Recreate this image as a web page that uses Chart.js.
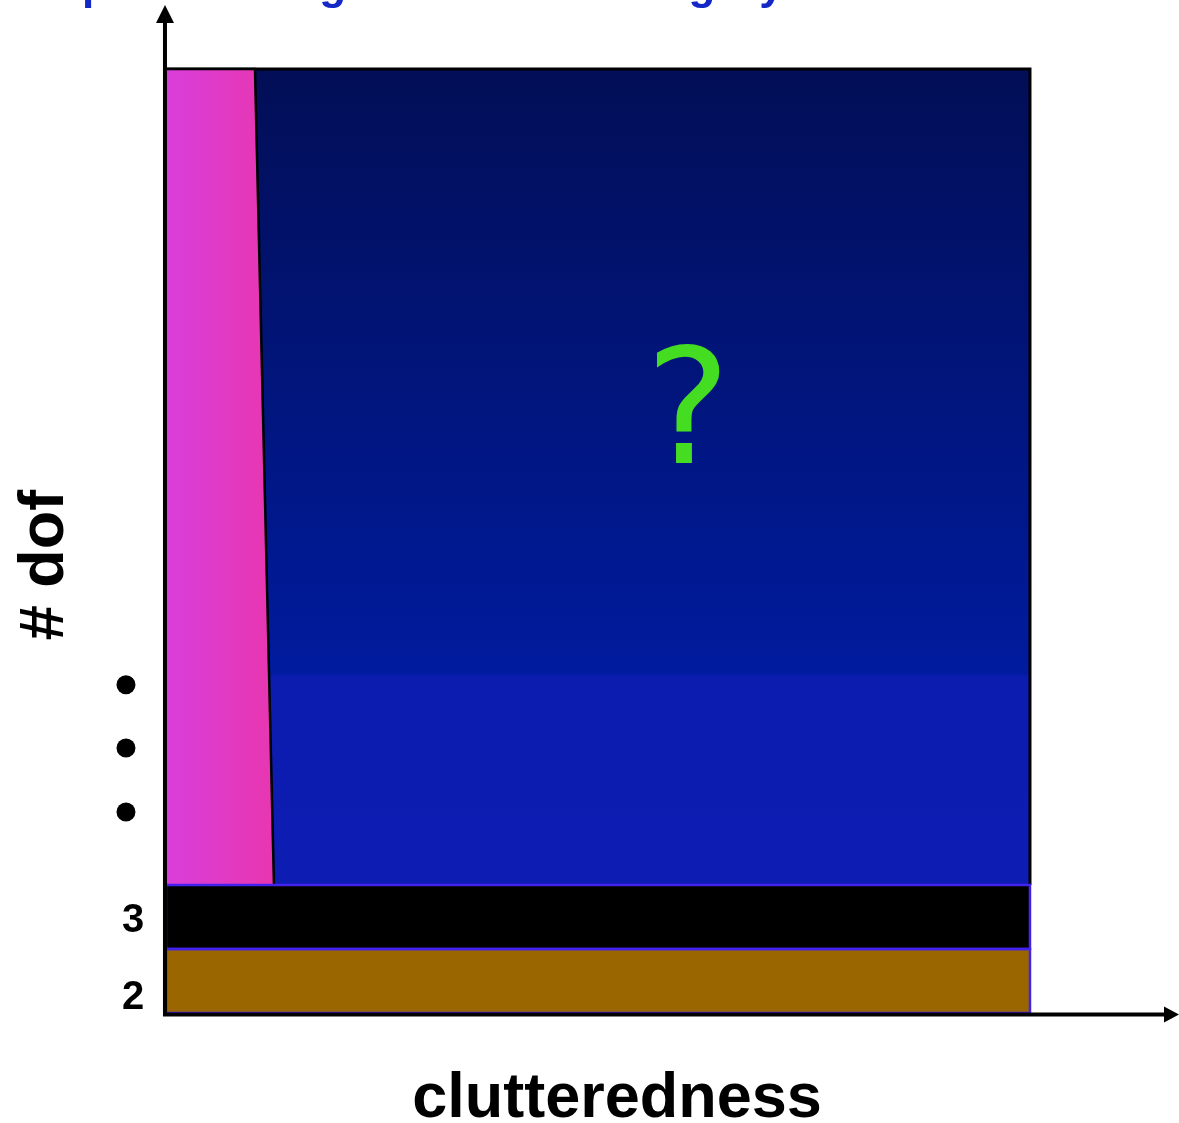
<!DOCTYPE html>
<html>
<head>
<meta charset="utf-8">
<script src="https://cdn.jsdelivr.net/npm/chart.js@4"></script>
<style>
  body { margin: 0; background: #fff; }
  canvas { display: block; }
</style>
</head>
<body>
<canvas id="dofChart" width="1179" height="1123"></canvas>
<script>
// regions of the dof / clutteredness map (x: clutteredness, y: dof band units)
const clutterMax = 100;
const dofTop = 14.75;
const bandLabels = ['2', '3'];
const bandBottoms = [0, 1];
const bandTops = [1, 2];
const bandColors = ['#996600', '#000000'];
const pinkTopX = 10.3;
const pinkBottomX = 12.5;
const tickValues = [0.24, 1.44];
const dotValues = [3.14, 4.14, 5.13];
const dotX = -4.63;
const titleText = 'Map of the long tail of each category';

const ctx = document.getElementById('dofChart').getContext('2d');

function bandFill(i) {
    return [{x: 0, y: bandTops[i]}, {x: clutterMax, y: bandTops[i]}];
}

function bandOutline(i) {
    return [
        {x: 0, y: bandBottoms[i]},
        {x: 0, y: bandTops[i]},
        {x: clutterMax, y: bandTops[i]},
        {x: clutterMax, y: bandBottoms[i]},
        {x: 0, y: bandBottoms[i]}
    ];
}

function blueFill(context) {
    const chart = context.chart;
    if (!chart.chartArea) return '#001080';
    const y = chart.scales.y;
    const g = chart.ctx.createLinearGradient(0, y.getPixelForValue(dofTop), 0, y.getPixelForValue(bandTops[1]));
    g.addColorStop(0, '#020e56');
    g.addColorStop(0.74, '#001b9e');
    g.addColorStop(0.745, '#0c1caf');
    g.addColorStop(1, '#0d1db4');
    return g;
}

function pinkFill(context) {
    const chart = context.chart;
    if (!chart.chartArea) return '#e03cc8';
    const x = chart.scales.x;
    const g = chart.ctx.createLinearGradient(x.getPixelForValue(0), 0, x.getPixelForValue(pinkBottomX), 0);
    g.addColorStop(0, '#d93edb');
    g.addColorStop(1, '#e836b0');
    return g;
}

const decorations = {
    id: 'decorations',
    afterDraw(chart) {
        const c = chart.ctx;
        const area = chart.chartArea;
        const xs = chart.scales.x, ys = chart.scales.y;
        const x0 = xs.getPixelForValue(0), y0 = ys.getPixelForValue(0);
        c.save();
        // axes with arrows
        c.strokeStyle = '#000';
        c.fillStyle = '#000';
        c.lineWidth = 4;
        c.beginPath();
        c.moveTo(x0 - 1, y0 + 3);
        c.lineTo(x0 - 1, area.top + 16);
        c.moveTo(x0 - 3, y0 + 1.5);
        c.lineTo(area.right - 10, y0 + 1.5);
        c.stroke();
        c.beginPath();
        c.moveTo(x0 - 1, area.top);
        c.lineTo(x0 - 10, area.top + 18);
        c.lineTo(x0 + 8, area.top + 18);
        c.closePath();
        c.fill();
        c.beginPath();
        c.moveTo(area.right + 3, y0 + 1.5);
        c.lineTo(area.right - 12, y0 - 6.5);
        c.lineTo(area.right - 12, y0 + 9.5);
        c.closePath();
        c.fill();

        // tick labels
        c.font = 'bold 40px "Liberation Sans", Arial, sans-serif';
        c.textAlign = 'center';
        c.textBaseline = 'middle';
        bandLabels.forEach((lab, i) => {
            c.fillText(lab, 133, ys.getPixelForValue(tickValues[i]));
        });

        // axis titles
        c.font = 'bold 63px "Liberation Sans", Arial, sans-serif';
        c.textBaseline = 'alphabetic';
        c.fillText('clutteredness', 617, 1117);
        c.save();
        c.translate(63, 565);
        c.rotate(-Math.PI / 2);
        c.fillText('# dof', 0, 0);
        c.restore();

        // question mark
        c.fillStyle = '#44dd22';
        c.font = '160px "DejaVu Sans", sans-serif';
        c.fillText('?', 688, 463);

        // title cut off at top
        c.fillStyle = '#1428c8';
        c.font = 'bold 44px "Liberation Sans", Arial, sans-serif';
        c.textAlign = 'left';
        c.fillText(titleText, 21, -1);
        c.restore();
    }
};

const dofChart = new Chart(ctx, {
    type: 'scatter',
    data: {
        datasets: [
            {
                data: [{x: 0, y: dofTop}, {x: clutterMax, y: dofTop}, {x: clutterMax, y: bandTops[1]}],
                showLine: true,
                borderColor: '#000',
                borderWidth: 3,
                backgroundColor: blueFill,
                fill: {value: bandTops[1]},
                pointRadius: 0,
                order: 5
            },
            {
                data: [{x: 0, y: dofTop}, {x: pinkTopX, y: dofTop}, {x: pinkBottomX, y: bandTops[1]}],
                showLine: true,
                borderColor: '#000',
                borderWidth: 2.5,
                backgroundColor: pinkFill,
                fill: {value: bandTops[1]},
                pointRadius: 0,
                order: 4
            },
            ...bandLabels.map((lab, i) => ({
                label: lab,
                data: bandFill(i),
                showLine: true,
                borderWidth: 0,
                backgroundColor: bandColors[i],
                fill: {value: bandBottoms[i]},
                pointRadius: 0,
                order: 3
            })),
            ...bandLabels.map((lab, i) => ({
                label: lab + ' outline',
                data: bandOutline(i),
                showLine: true,
                borderColor: '#4422ee',
                borderWidth: 2.5,
                fill: false,
                pointRadius: 0,
                order: 2
            })),
            {
                data: dotValues.map(v => ({x: dotX, y: v})),
                showLine: false,
                pointRadius: 9.5,
                pointBackgroundColor: '#000',
                pointBorderWidth: 0,
                order: 0
            }
        ]
    },
    options: {
        responsive: false,
        animation: false,
        layout: {autoPadding: false, padding: {left: 0, right: 3, top: 5, bottom: 110}},
        plugins: {legend: {display: false}, tooltip: {enabled: false}},
        scales: {
            x: {type: 'linear', min: -19.21, max: 116.9, display: false},
            y: {type: 'linear', min: 0, max: 15.75, display: false}
        }
    },
    plugins: [decorations]
});
</script>
</body>
</html>
